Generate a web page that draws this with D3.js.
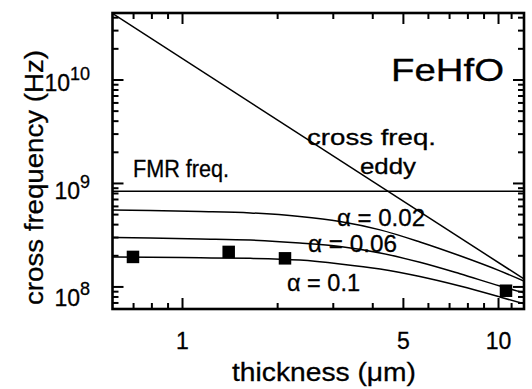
<!DOCTYPE html>
<html>
<head>
<meta charset="utf-8">
<script src="https://cdn.jsdelivr.net/npm/d3@7"></script>
<style>
  html, body { margin: 0; padding: 0; background: #fff; }
  svg { display: block; }
  text { font-family: Arial, "Liberation Sans", Helvetica, sans-serif; fill: #000; stroke: #000; stroke-width: 0.3; }
</style>
</head>
<body>
<div id="chart"></div>
<script>
// ---------------- data ----------------
const thickness = [0.6, 0.79, 1.14, 1.64, 2.35, 3.15, 4.22, 5.64, 7.55, 10.1, 12.04];
const alpha002 = [5.54e8, 5.48e8, 5.36e8, 5.19e8, 4.80e8, 4.29e8, 3.56e8, 2.72e8, 2.00e8, 1.43e8, 1.14e8];
const alpha006 = [3.01e8, 2.97e8, 2.91e8, 2.84e8, 2.66e8, 2.46e8, 2.13e8, 1.73e8, 1.34e8, 1.02e8, 8.75e7];
const alpha01  = [1.95e8, 1.94e8, 1.91e8, 1.89e8, 1.82e8, 1.67e8, 1.49e8, 1.26e8, 1.02e8, 8.0e7, 6.86e7];
const eddyT = [0.6, 12];
const eddyF = [4.4e10, 1.2e8];
const fmrT = [0.6, 12.04];
const fmrF = [8.4e8, 8.4e8];
const measT = [0.697, 1.40, 2.11, 10.56];
const measF = [1.95e8, 2.18e8, 1.89e8, 9.19e7];
const xMajor = [1, 5, 10];
const xMajorLabels = ["1", "5", "10"];
const xMinor = [0.7, 0.8, 0.9, 2, 3, 4, 6, 7, 8, 9, 11];
const yMajor = [1e8, 1e9, 1e10];
const yMajorExp = ["8", "9", "10"];
const yMinor = [7e7, 8e7, 9e7,
  2e8, 3e8, 4e8, 5e8, 6e8, 7e8, 8e8, 9e8,
  2e9, 3e9, 4e9, 5e9, 6e9, 7e9, 8e9, 9e9,
  2e10, 3e10, 4e10];

// ---------------- layout ----------------
const W = 532, H = 389;
const M = { l: 112.5, r: 524, t: 13, b: 309 };
const yLabelNudge = [19, 16, 11]; // label baseline offset below each major tick
const svg = d3.select("#chart").append("svg").attr("width", W).attr("height", H);

const x = d3.scaleLog().domain([0.6004, 12.04]).range([M.l, M.r]);
const y = d3.scaleLog().domain([6.12e7, 4.44e10]).range([M.b, M.t]);

svg.append("clipPath").attr("id", "clip")
  .append("rect").attr("x", M.l).attr("y", M.t).attr("width", M.r - M.l).attr("height", M.b - M.t);

const plot = svg.append("g").attr("clip-path", "url(#clip)");
const line = d3.line().x(d => x(d[0])).y(d => y(d[1]));
const smooth = d3.line().x(d => x(d[0])).y(d => y(d[1])).curve(d3.curveMonotoneX);

function drawLine(ts, fs, gen) {
  plot.append("path")
    .datum(ts.map((t, i) => [t, fs[i]]))
    .attr("d", gen)
    .attr("fill", "none")
    .attr("stroke", "#000")
    .attr("stroke-width", 1.5);
}
drawLine(eddyT, eddyF, line);
drawLine(fmrT, fmrF, line);
drawLine(thickness, alpha002, smooth);
drawLine(thickness, alpha006, smooth);
drawLine(thickness, alpha01, smooth);

const ms = 12.5;
svg.append("g").selectAll("rect").data(measT.map((t, i) => [t, measF[i]])).join("rect")
  .attr("x", d => x(d[0]) - ms / 2).attr("y", d => y(d[1]) - ms / 2)
  .attr("width", ms).attr("height", ms).attr("fill", "#000");

// ---------------- ticks ----------------
const tk = svg.append("g").attr("stroke", "#000").attr("stroke-width", 2);
const majL = 11, minL = 6;
function xTicks(vals, len) {
  vals.forEach(v => {
    const px = x(v);
    tk.append("line").attr("x1", px).attr("x2", px).attr("y1", M.b).attr("y2", M.b - len);
    tk.append("line").attr("x1", px).attr("x2", px).attr("y1", M.t).attr("y2", M.t + len);
  });
}
function yTicks(vals, len) {
  vals.forEach(v => {
    const py = y(v);
    tk.append("line").attr("x1", M.l).attr("x2", M.l + len).attr("y1", py).attr("y2", py);
    tk.append("line").attr("x1", M.r).attr("x2", M.r - len).attr("y1", py).attr("y2", py);
  });
}
xTicks(xMajor, majL); xTicks(xMinor, minL);
yTicks(yMajor, majL); yTicks(yMinor, minL);

svg.append("rect").attr("x", M.l).attr("y", M.t).attr("width", M.r - M.l).attr("height", M.b - M.t)
  .attr("fill", "none").attr("stroke", "#000").attr("stroke-width", 2.6);

// tick labels
xMajor.forEach((v, i) => {
  svg.append("text").attr("x", x(v)).attr("y", 349)
    .attr("text-anchor", "middle").attr("font-size", 23).text(xMajorLabels[i]);
});
yMajor.forEach((v, i) => {
  const t = svg.append("text").attr("x", 90).attr("y", y(v) + yLabelNudge[i])
    .attr("text-anchor", "end").attr("font-size", 23);
  t.append("tspan").text("10");
  t.append("tspan").attr("font-size", 18).attr("dy", -11).text(yMajorExp[i]);
});

// axis titles
svg.append("text").attr("x", 232).attr("y", 381).attr("font-size", 26)
  .attr("textLength", 184).attr("lengthAdjust", "spacingAndGlyphs").text("thickness (\u03bcm)");
svg.append("text").attr("transform", "translate(43,305) rotate(-90)").attr("font-size", 26)
  .attr("textLength", 255).attr("lengthAdjust", "spacingAndGlyphs").text("cross frequency (Hz)");

// annotations
function label(txt, px, py, size, len) {
  return svg.append("text").attr("x", px).attr("y", py).attr("font-size", size)
    .attr("textLength", len).attr("lengthAdjust", "spacingAndGlyphs").text(txt);
}
label("FeHfO", 391, 81, 32, 113);
label("cross freq.", 307, 145, 22, 129);
label("eddy", 360, 174, 22, 56);
label("FMR freq.", 133, 177, 23, 96);
label("\u03b1 = 0.02", 337, 226, 24, 88);
label("\u03b1 = 0.06", 308, 252, 24, 89);
label("\u03b1 = 0.1", 287, 291, 24, 73);
</script>
</body>
</html>
